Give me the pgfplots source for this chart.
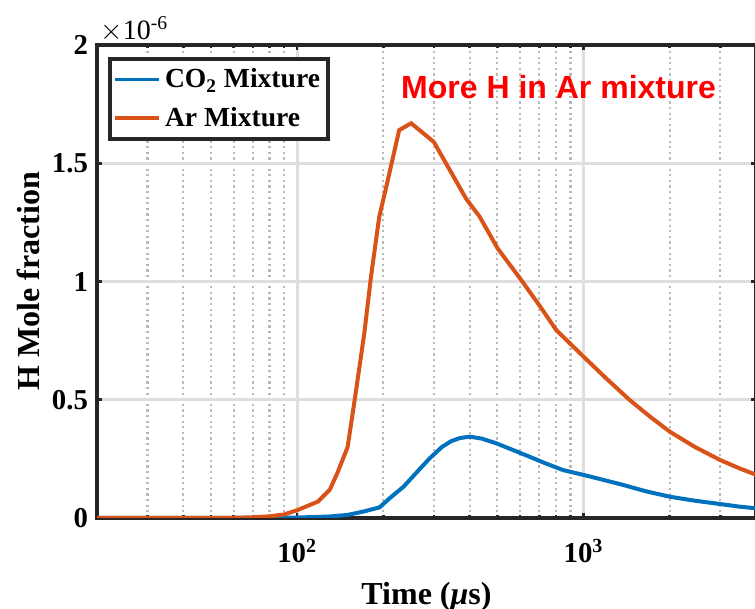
\documentclass[border=0pt]{standalone}
\usepackage{pgfplots}
\pgfplotsset{compat=1.18}
\usepackage{fontspec}
\setmainfont{Liberation Serif}
\newfontfamily\arialfont{Liberation Sans}
\definecolor{mblue}{RGB}{0,114,189}
\definecolor{morange}{RGB}{217,83,25}
\definecolor{gridmaj}{RGB}{222,222,222}
\definecolor{gridmin}{RGB}{185,185,185}
\begin{document}
\begin{tikzpicture}
\begin{axis}[
  scale only axis,
  width=329.5pt, height=236.5pt,
  xmode=log,
  xmin=20, xmax=4000,
  ymin=0, ymax=2,
  xtick={100,1000},
  minor xtick={30,40,50,60,70,80,90,200,300,400,500,600,700,800,900,2000,3000},
  xticklabels={\bfseries 10\textsuperscript{2},\bfseries 10\textsuperscript{3}},
  ytick={0,0.5,1,1.5,2},
  yticklabels={\bfseries 0,\bfseries 0.5,\bfseries 1,\bfseries 1.5,\bfseries 2},
  scaled y ticks=false,
  tick label style={font=\fontsize{14.4}{16}\selectfont},
  xticklabel style={yshift=-7pt},
  yticklabel style={xshift=-1pt},
  grid=both,
  major grid style={draw=gridmaj, line width=1.4pt},
  minor grid style={draw=gridmin, line width=1.1pt, dash pattern=on 1.1pt off 1.7pt},
  axis line style={line width=2pt, draw=black!85},
  tick style={line width=1.3pt, black!85},
  major tick length=2.5pt,
  minor tick length=1.6pt,
  tick align=inside,
  xlabel={\bfseries Time (\textit{μ}s)},
  ylabel={\bfseries H Mole fraction},
  label style={font=\fontsize{16}{18}\selectfont},
  xlabel style={yshift=-3pt},
  ylabel style={yshift=-1pt},
  legend style={at={(0,1)}, anchor=north west, xshift=5.5pt, yshift=-6pt,
    draw=black!85, line width=1.8pt, font=\fontsize{13.8}{15}\selectfont\bfseries,
    inner xsep=2pt, inner ysep=3pt, row sep=4pt},
  legend cell align=left,
  legend image code/.code={\draw[#1, line width=1.6pt] (0pt,0pt) -- (22pt,0pt);},
]
\addplot[color=mblue, line width=2pt] coordinates {
(20,0) (60,0) (100,0.002) (129,0.006) (150,0.013) (170,0.027) (194,0.045)
(210,0.083) (235,0.132) (260,0.19) (290,0.252) (320,0.300) (345,0.325)
(370,0.338) (400,0.344) (440,0.336) (495,0.316) (560,0.290) (648,0.259)
(740,0.230) (846,0.203) (1000,0.182) (1200,0.158) (1372,0.140) (1650,0.113)
(2000,0.090) (2450,0.073) (3000,0.059) (3500,0.048) (4000,0.041)
};
\addlegendentry{CO\textsubscript{2} Mixture}
\addplot[color=morange, line width=2pt] coordinates {
(20,0) (40,0) (60,0.001) (70,0.003) (80,0.007) (90,0.015) (100,0.033)
(118,0.069) (130,0.12) (138,0.189) (150,0.30) (160,0.527) (171.5,0.78)
(181,1.02) (193.5,1.274) (206,1.415) (227,1.64) (250,1.669) (300,1.59)
(389,1.35) (433,1.275) (501,1.14) (606,1.006) (700,0.90) (802,0.795)
(1000,0.682) (1200,0.59) (1448,0.499) (1700,0.43) (2000,0.365)
(2450,0.30) (3000,0.245) (3500,0.21) (4000,0.183)
};
\addlegendentry{Ar Mixture}
\node[anchor=base, text=red, font=\arialfont\bfseries\fontsize{16}{18}\selectfont]
  at (axis cs:818,1.772) {More H in Ar mixture};
\end{axis}
\node[anchor=base west, font=\fontsize{14}{16}\selectfont, inner sep=0pt]
  at ([xshift=1.5pt, yshift=2.5pt]current axis.north west) {$\times$10\textsuperscript{-6}};
\pgfresetboundingbox
\path ([xshift=-48.5pt, yshift=-45.5pt]current axis.south west) rectangle ++(377.5pt,304.5pt);
\end{tikzpicture}
\end{document}
